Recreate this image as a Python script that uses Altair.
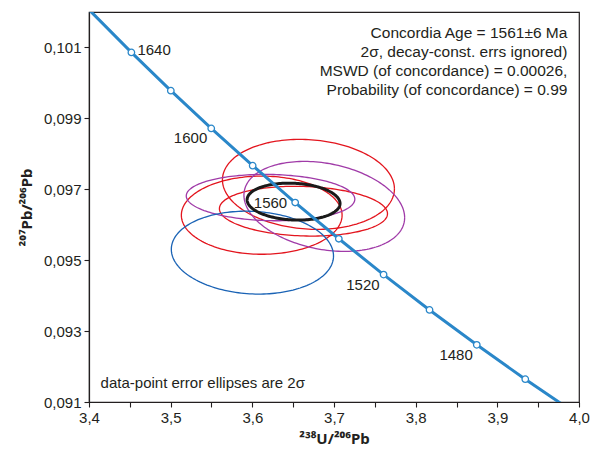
import numpy as np
import pandas as pd
import altair as alt

# ---- concordia curve (age in Ma, 238U/206Pb, 207Pb/206Pb) ----
conc_age = [1680, 1660, 1640, 1620, 1600, 1580, 1560, 1540, 1520, 1500, 1480, 1460, 1440]
conc_x = [3.35886, 3.40481, 3.45190, 3.50019, 3.54968, 3.60041, 3.65247,
          3.70588, 3.76070, 3.81698, 3.87480, 3.93422, 3.99529]
conc_y = [0.103064, 0.101953, 0.100860, 0.099781, 0.098717, 0.097665, 0.096626,
          0.095604, 0.094594, 0.093597, 0.092612, 0.091643, 0.090685]
marker_ages = [1640, 1620, 1600, 1580, 1560, 1540, 1520, 1500, 1480, 1460]
label_right = [1640]
label_below = [1600, 1520, 1480]
label_left = [1560]

# ---- error ellipses (centre, 2-sigma half widths, correlation) ----
ell_name = ["R1", "R2", "R3", "P1", "P2", "B1", "mean"]
ell_kind = ["red", "red", "red", "purple", "purple", "blue", "mean"]
ell_cx = [3.6687, 3.6115, 3.6626, 3.6223, 3.6881, 3.6001, 3.6505]
ell_cy = [0.097138, 0.096269, 0.096382, 0.096766, 0.096517, 0.095213, 0.096652]
ell_sx = [0.1053, 0.0984, 0.1029, 0.1032, 0.0984, 0.0993, 0.0569]
ell_sy = [0.001269, 0.001102, 0.000702, 0.000654, 0.001269, 0.001169, 0.000521]
ell_rho = [-0.10, 0.0, -0.10, -0.07, -0.25, -0.08, -0.10]

# ---- axes ----
x_ticks = [3.4, 3.45, 3.5, 3.55, 3.6, 3.65, 3.7, 3.75, 3.8, 3.85, 3.9, 3.95, 4.0]
y_ticks = [0.091, 0.092, 0.093, 0.094, 0.095, 0.096, 0.097, 0.098, 0.099, 0.100, 0.101, 0.102]

info_lines = ["Concordia Age = 1561\u00b16 Ma",
              "2\u03c3, decay-const. errs ignored)",
              "MSWD (of concordance) = 0.00026,",
              "Probability (of concordance) = 0.99"]
note_text = "data-point error ellipses are 2\u03c3"

FONT = "Liberation Sans"
TITLE_FONT = "Noto Sans"

# build tables
conc = pd.DataFrame({"age": conc_age, "x": conc_x, "y": conc_y})
marks = conc[conc["age"].isin(marker_ages)].copy()
marks["lab"] = marks["age"].astype(str)

t = np.linspace(0, 2 * np.pi, 181)
rows = []
for n, kd, cx, cy, sx, sy, r in zip(ell_name, ell_kind, ell_cx, ell_cy, ell_sx, ell_sy, ell_rho):
    xs = cx + sx * np.cos(t)
    ys = cy + sy * (r * np.cos(t) + np.sqrt(1 - r * r) * np.sin(t))
    for k, (a, b) in enumerate(zip(xs, ys)):
        rows.append({"name": n, "kind": kd, "k": k, "x": a, "y": b})
ell = pd.DataFrame(rows)

PLOT_W = 490
PLOT_H = 390

xs_ = alt.Scale(domain=[3.4, 4.0], nice=False, zero=False)
ys_ = alt.Scale(domain=[0.091, 0.102], nice=False, zero=False)

x_axis = alt.Axis(values=x_ticks, grid=False, tickSize=5, labelFlush=False, labelOverlap=False,
                  labelExpr="round(datum.value*100) % 10 == 0 ? replace(format(datum.value, '.1f'), '.', ',') : ''",
                  title="\u00b2\u00b3\u2078U/\u00b2\u2070\u2076Pb", titleY=41, titleBaseline="alphabetic")
y_axis = alt.Axis(values=y_ticks, grid=False, tickSize=5, labelFlush=False, labelOverlap=False,
                  labelExpr="round(datum.value*1000) % 2 == 1 ? replace(format(datum.value, '.3f'), '.', ',') : ''",
                  title="\u00b2\u2070\u2077Pb/\u00b2\u2070\u2076Pb", titleX=-63, titleY=PLOT_H / 2,
                  titleAngle=270, titleAlign="center", titleBaseline="middle")

base_ell = alt.Chart(ell)
ell_layer = base_ell.transform_filter("datum.kind != 'mean'").mark_line(strokeWidth=1.3, clip=True).encode(
    x=alt.X("x:Q", scale=xs_, axis=x_axis),
    y=alt.Y("y:Q", scale=ys_, axis=y_axis),
    color=alt.Color("kind:N", scale=alt.Scale(domain=["red", "purple", "blue"],
                                              range=["#e3151e", "#a03ba8", "#1a63b5"]), legend=None),
    detail="name:N",
    order="k:Q",
)
mean_layer = base_ell.transform_filter("datum.kind == 'mean'").mark_line(
    strokeWidth=3, color="#1a1a1a", clip=True).encode(
    x="x:Q", y="y:Q", detail="name:N", order="k:Q")

conc_line = alt.Chart(conc).mark_line(color="#2a87c9", strokeWidth=3, clip=True).encode(
    x="x:Q", y="y:Q", order="age:Q")
conc_pts = alt.Chart(marks).mark_point(filled=True, fill="white", stroke="#2a87c9",
                                       strokeWidth=1.3, size=42, opacity=1).encode(x="x:Q", y="y:Q")

txt = dict(font=FONT, fontSize=15, color="#231f20")
lab_r = alt.Chart(marks).transform_filter(alt.FieldOneOfPredicate(field="age", oneOf=label_right)).mark_text(
    align="left", baseline="middle", dx=6, dy=-2, **txt).encode(x="x:Q", y="y:Q", text="lab:N")
lab_b = alt.Chart(marks).transform_filter(alt.FieldOneOfPredicate(field="age", oneOf=label_below)).mark_text(
    align="right", baseline="middle", dx=-4, dy=10, **txt).encode(x="x:Q", y="y:Q", text="lab:N")
lab_l = alt.Chart(marks).transform_filter(alt.FieldOneOfPredicate(field="age", oneOf=label_left)).mark_text(
    align="right", baseline="middle", dx=-8, dy=0, **txt).encode(x="x:Q", y="y:Q", text="lab:N")

info = alt.Chart(pd.DataFrame({"a": [0]})).mark_text(
    text=info_lines, align="right", baseline="middle", lineHeight=19,
    font=FONT, fontSize=15.5, color="#231f20").encode(
    x=alt.datum(3.9858), y=alt.datum(0.101405))
note = alt.Chart(pd.DataFrame({"a": [0]})).mark_text(
    text=note_text, align="left", baseline="middle",
    font=FONT, fontSize=15, color="#231f20").encode(
    x=alt.datum(3.4142), y=alt.datum(0.09154))

chart = alt.layer(ell_layer, mean_layer, conc_line, conc_pts, lab_r, lab_b, lab_l, info, note).properties(
    width=PLOT_W, height=PLOT_H,
    autosize=alt.AutoSizeParams(type="none"),
    padding={"left": 81, "top": 4, "right": 11, "bottom": 48},
    background="white",
).configure_view(stroke="#231f20", strokeWidth=1.2).configure_axis(
    domainColor="#231f20", domainWidth=1.2, tickColor="#231f20", tickWidth=1.1,
    labelFont=FONT, labelFontSize=15, labelColor="#231f20", labelPadding=3,
    titleFont=TITLE_FONT, titleFontSize=15, titleFontWeight="bold", titleColor="#231f20",
)

chart.save("out.html", embed_options={"renderer": "svg", "actions": False})
